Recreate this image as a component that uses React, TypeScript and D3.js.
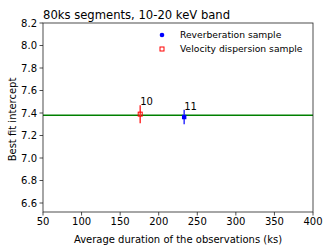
import React from "react";
import * as d3 from "d3";

const xTicks = [50, 100, 150, 200, 250, 300, 350, 400];
const yTicks = [6.6, 6.8, 7.0, 7.2, 7.4, 7.6, 7.8, 8.0, 8.2];

const revX = [233];
const revY = [7.364];
const revErr = [0.065];
const revLabels = ["11"];

const velX = [176];
const velY = [7.39];
const velErr = [0.08];
const velLabels = ["10"];

const fitIntercept = 7.38;

const W = 332;
const H = 249;
const M = { left: 43, right: 313, top: 23, bottom: 212 };
const FONT = "DejaVu Sans, sans-serif";
const FS = 10;
const LFS = 9.2;

export default function App() {
  const x = d3.scaleLinear().domain([50, 400]).range([M.left, M.right]);
  const y = d3.scaleLinear().domain([6.52, 8.2]).range([M.bottom, M.top]);
  const axisColor = "#222";

  return (
    <svg
      width={W}
      height={H}
      style={{ position: "absolute", left: 0, top: 0, background: "#fff" }}
      fontFamily={FONT}
    >
      <text x={M.left} y={18.5} fontSize={11.6} fill="#000">
        80ks segments, 10-20 keV band
      </text>

      <line
        x1={M.left}
        x2={M.right}
        y1={y(fitIntercept)}
        y2={y(fitIntercept)}
        stroke="#008000"
        strokeWidth={1.5}
      />

      {velX.map((v, i) => (
        <g key={"v" + i}>
          <line
            x1={x(v)}
            x2={x(v)}
            y1={y(velY[i] - velErr[i])}
            y2={y(velY[i] + velErr[i])}
            stroke="#ff3333"
            strokeWidth={1.5}
          />
          <rect
            x={x(v) - 2}
            y={y(velY[i]) - 2}
            width={4}
            height={4}
            fill="none"
            stroke="#ff0000"
            strokeWidth={1}
          />
          <text x={x(v)} y={y(velY[i] + velErr[i])} fontSize={FS} fill="#000">
            {velLabels[i]}
          </text>
        </g>
      ))}

      {revX.map((v, i) => (
        <g key={"r" + i}>
          <line
            x1={x(v)}
            x2={x(v)}
            y1={y(revY[i] - revErr[i])}
            y2={y(revY[i] + revErr[i])}
            stroke="#3333ff"
            strokeWidth={1.5}
          />
          <rect x={x(v) - 2.2} y={y(revY[i]) - 2.2} width={4.4} height={4.4} fill="#0000ff" />
          <text x={x(v)} y={y(revY[i] + revErr[i])} fontSize={FS} fill="#000">
            {revLabels[i]}
          </text>
        </g>
      ))}

      <rect
        x={M.left}
        y={M.top}
        width={M.right - M.left}
        height={M.bottom - M.top}
        fill="none"
        stroke={axisColor}
        strokeWidth={0.8}
      />

      {xTicks.map((t) => (
        <g key={"xt" + t}>
          <line x1={x(t)} x2={x(t)} y1={M.bottom} y2={M.bottom + 3.5} stroke={axisColor} strokeWidth={0.8} />
          <text x={x(t)} y={225} fontSize={FS} textAnchor="middle" fill="#000">
            {t}
          </text>
        </g>
      ))}

      {yTicks.map((t) => (
        <g key={"yt" + t}>
          <line x1={M.left - 3.5} x2={M.left} y1={y(t)} y2={y(t)} stroke={axisColor} strokeWidth={0.8} />
          <text x={M.left - 6} y={y(t)} dy="0.35em" fontSize={FS} textAnchor="end" fill="#000">
            {t.toFixed(1)}
          </text>
        </g>
      ))}

      <text x={(M.left + M.right) / 2} y={242.5} fontSize={FS} textAnchor="middle" fill="#000">
        Average duration of the observations (ks)
      </text>
      <text
        transform={`translate(15.5,${(M.top + M.bottom) / 2 + 2}) rotate(-90)`}
        fontSize={FS}
        textAnchor="middle"
        fill="#000"
      >
        Best fit intercept
      </text>

      <circle cx={162} cy={35} r={2.3} fill="#0000ff" />
      <text x={180} y={35} dy="0.35em" fontSize={LFS} fill="#000">
        Reverberation sample
      </text>
      <rect x={160} y={47} width={4} height={4} fill="none" stroke="#ff0000" strokeWidth={1} />
      <text x={180} y={49} dy="0.35em" fontSize={LFS} fill="#000">
        Velocity dispersion sample
      </text>
    </svg>
  );
}
